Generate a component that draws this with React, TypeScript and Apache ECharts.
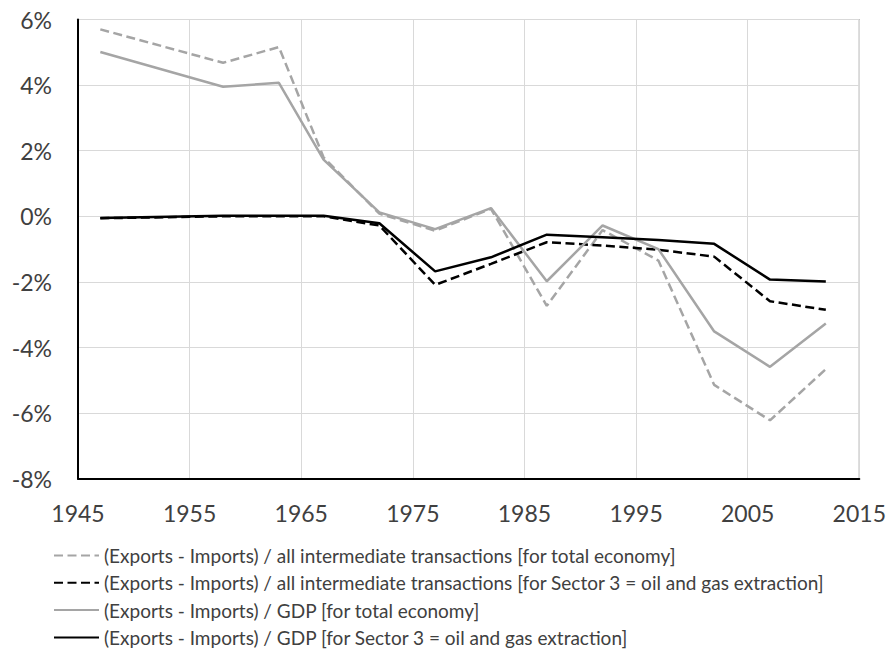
import React, { useEffect, useRef } from "react";
import * as echarts from "echarts";

const years = [1947, 1958, 1963, 1967, 1972, 1977, 1982, 1987, 1992, 1997, 2002, 2007, 2012];
const interTotal = [5.7, 4.68, 5.16, 1.8, 0.08, -0.44, 0.23, -2.73, -0.42, -1.35, -5.14, -6.22, -4.66];
const interSector3 = [-0.06, 0.0, 0.0, 0.0, -0.28, -2.09, -1.45, -0.79, -0.89, -1.02, -1.23, -2.59, -2.85];
const gdpTotal = [5.01, 3.95, 4.07, 1.73, 0.12, -0.39, 0.25, -1.98, -0.28, -1.0, -3.51, -4.59, -3.27];
const gdpSector3 = [-0.05, 0.02, 0.02, 0.02, -0.21, -1.68, -1.25, -0.56, -0.64, -0.72, -0.84, -1.93, -1.99];

const names = [
  "(Exports - Imports) / all intermediate transactions [for total economy]",
  "(Exports - Imports) / all intermediate transactions [for Sector 3 = oil and gas extraction]",
  "(Exports - Imports) / GDP [for total economy]",
  "(Exports - Imports) / GDP [for Sector 3 = oil and gas extraction]",
];

const pair = (vals: number[]) => years.map((y, i) => [y, vals[i]]);

export default function App() {
  const ref = useRef<HTMLDivElement>(null);
  useEffect(() => {
    if (!ref.current) return;
    const chart = echarts.init(ref.current, null, { renderer: "svg" });
    const font = "Lato";
    const mk = (name: string, vals: number[], color: string, dashed: boolean) => ({
      name,
      type: "line",
      data: pair(vals),
      symbol: "none",
      lineStyle: { color, width: 2.5, type: dashed ? [9, 4.5] : "solid" },
      itemStyle: { color },
    });
    chart.setOption({
      animation: false,
      grid: {
        left: 78,
        top: 19.5,
        right: 29.7,
        bottom: 173.3,
        show: true,
        borderColor: "#595959",
        borderWidth: 1,
      },
      xAxis: {
        type: "value",
        min: 1945,
        max: 2015,
        interval: 10,
        axisLine: { show: true, onZero: false, lineStyle: { color: "#000", width: 2 } },
        axisTick: { show: false },
        axisLabel: {
          color: "#404040",
          fontFamily: font,
          fontSize: 23,
          margin: 23,
          formatter: (v: number) => String(v),
        },
        splitLine: { show: true, lineStyle: { color: "#D9D9D9", width: 1 } },
      },
      yAxis: {
        type: "value",
        min: -8,
        max: 6,
        interval: 2,
        axisLine: { show: true, lineStyle: { color: "#000", width: 2 } },
        axisTick: { show: false },
        axisLabel: {
          color: "#404040",
          fontFamily: font,
          fontSize: 23,
          margin: 26,
          formatter: (v: number) => `${v}%`,
        },
        splitLine: { show: true, lineStyle: { color: "#D9D9D9", width: 1 } },
      },
      legend: {
        orient: "vertical",
        left: 53,
        top: 545,
        padding: 0,
        height: 110,
        itemWidth: 45,
        itemHeight: 14,
        itemGap: 6.3,
        itemStyle: { opacity: 0 },
        textStyle: { color: "#404040", fontFamily: font, fontSize: 19, lineHeight: 21 },
        data: names,
      },
      series: [
        mk(names[0], interTotal, "#A5A5A5", true),
        mk(names[1], interSector3, "#000000", true),
        mk(names[2], gdpTotal, "#A5A5A5", false),
        mk(names[3], gdpSector3, "#000000", false),
      ],
    });
    return () => chart.dispose();
  }, []);
  return <div ref={ref} style={{ width: 889, height: 652, position: "absolute", left: 0, top: 0 }} />;
}
